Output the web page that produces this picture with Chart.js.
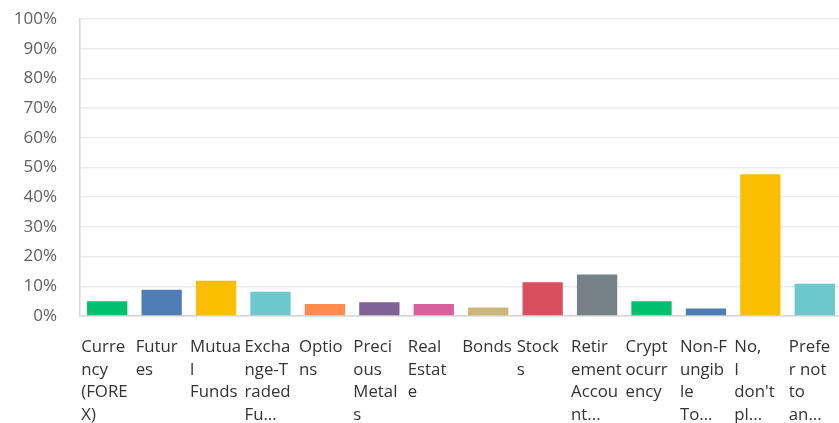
<!DOCTYPE html>
<html>
<head>
<meta charset="utf-8">
<script src="https://cdn.jsdelivr.net/npm/chart.js@4"></script>
<style>
  html, body { margin: 0; padding: 0; background: #ffffff; overflow: hidden; }
  #wrap { position: relative; width: 842px; height: 423px; }
</style>
</head>
<body>
<div id="wrap"><canvas id="chart"></canvas></div>
<script>
// Answer options, wrapped the way the survey tool breaks them
const categories = [
  ["Curre", "ncy", "(FORE", "X)"],
  ["Futur", "es"],
  ["Mutua", "l", "Funds"],
  ["Excha", "nge-T", "raded", "Fu..."],
  ["Optio", "ns"],
  ["Preci", "ous", "Metal", "s"],
  ["Real", "Estat", "e"],
  ["Bonds"],
  ["Stock", "s"],
  ["Retir", "ement", "Accou", "nt..."],
  ["Crypt", "ocurr", "ency"],
  ["Non-F", "ungib", "le", "To..."],
  ["No,", "I", "don't", "pl..."],
  ["Prefe", "r not", "to", "an..."]
];

// Share of respondents, percent
const shares = [5.0, 8.8, 11.9, 8.2, 4.0, 4.6, 4.0, 2.9, 11.4, 14.0, 5.0, 2.5, 47.7, 10.9];

// Bar colours
const barColors = [
  "#00bf6f", "#507cb6", "#f9be00", "#6bc8cd", "#ff8b4f", "#7f6297", "#d9609a",
  "#c9b779", "#db4e5e", "#768087", "#00bf6f", "#507cb6", "#f9be00", "#6bc8cd"
];

// Y axis tick values
const yTicks = [0, 10, 20, 30, 40, 50, 60, 70, 80, 90, 100];

new Chart(document.getElementById("chart"), {
  type: "bar",
  data: {
    labels: categories,
    datasets: [{
      data: shares,
      backgroundColor: barColors,
      borderWidth: 0,
      barPercentage: 0.74,
      categoryPercentage: 1.0
    }]
  },
  options: {
    responsive: true,
    maintainAspectRatio: false,
    animation: false,
    layout: { padding: { top: 19, right: 0, left: 0, bottom: 0 } },
    plugins: {
      legend: { display: false },
      tooltip: { enabled: false }
    },
    scales: {
      x: {
        grid: { display: false },
        border: { display: true, color: "#d6d6d6", width: 1.5 },
        ticks: {
          autoSkip: false,
          maxRotation: 0,
          minRotation: 0,
          align: "start",
          labelOffset: -26,
          padding: 12,
          color: "#333333",
          font: { family: "'Open Sans'", size: 16.8, lineHeight: 1.35 }
        },
        afterFit: (scale) => {
          scale.height = 107;
          scale.paddingLeft = 0;
          scale.paddingRight = 0;
        }
      },
      y: {
        min: 0,
        max: 100,
        afterBuildTicks: (scale) => { scale.ticks = yTicks.map(v => ({ value: v })); },
        grid: { color: "#ebebeb", lineWidth: 1.5, drawTicks: false },
        border: { display: true, color: "#d6d6d6", width: 1.5 },
        ticks: {
          padding: 23,
          color: "#5f5f5f",
          font: { family: "'Open Sans'", size: 17 },
          callback: (v) => v + "%"
        },
        afterFit: (scale) => {
          scale.width = 80;
          scale.paddingTop = 0;
          scale.paddingBottom = 0;
        }
      }
    }
  }
});
</script>
</body>
</html>
